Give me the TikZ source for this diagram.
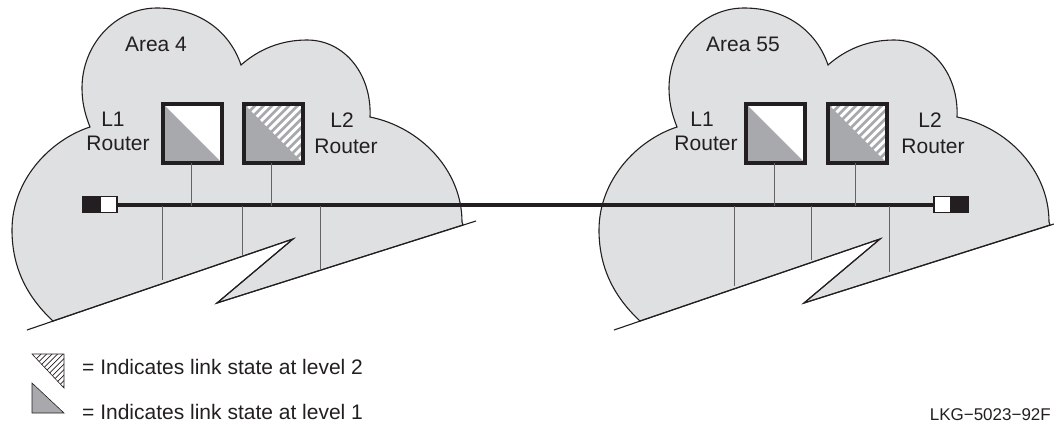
\documentclass[tikz,border=0pt]{standalone}
\usepackage{fontspec}
\setmainfont{Liberation Sans}
\definecolor{cloudgray}{HTML}{DFE0E2}
\definecolor{levelgray}{HTML}{A7A9AC}
\definecolor{inkblack}{HTML}{231F20}
\newcommand{\cloudoutline}{(53,321) .. controls (25,295) and (12,265) .. (12,230)
  .. controls (12,180) and (50,140) .. (90,127)
  .. controls (84,112) and (82,100) .. (82,88)
  .. controls (82,45) and (115,8) .. (157,8)
  .. controls (200,8) and (230,32) .. (241,65)
  .. controls (258,50) and (280,40) .. (307,40)
  .. controls (345,40) and (372,75) .. (370,117)
  .. controls (420,127) and (462,170) .. (462,222)}
\tikzset{
  lbl/.style={inner sep=0pt, font=\fontsize{21}{21}\selectfont, text=inkblack},
  area/.style={draw=inkblack, line width=1.1pt, fill=cloudgray},
  edgeline/.style={draw=inkblack, line width=1.1pt},
  drop/.style={draw=inkblack!70, line width=0.9pt},
  bus/.style={draw=inkblack, line width=4pt},
  term/.style={draw=inkblack, line width=1.6pt, minimum width=17pt, minimum height=16pt, inner sep=0pt, outer sep=0pt},
  router/.style={draw=inkblack, line width=4pt, minimum size=59pt, inner sep=0pt, outer sep=0pt},
  levelone/.style={router, fill=white, path picture={
      \fill[levelgray] (path picture bounding box.north west) -- (path picture bounding box.south east)
        -- (path picture bounding box.south west) -- cycle;}},
  leveltwo/.style={router, fill=levelgray, path picture={
      \begin{scope}
        \clip (path picture bounding box.north west) -- (path picture bounding box.south east)
          -- (path picture bounding box.north east) -- cycle;
        \foreach \s in {-60,-51.5,...,70} {
          \draw[white, line width=3pt] ([xshift=\s pt, yshift=-60pt]path picture bounding box.north west) -- ++(60pt,60pt);
        }
      \end{scope}}},
}
\begin{document}
\begin{tikzpicture}[x=1pt, y=-1pt]
  \useasboundingbox (0,0) rectangle (1054,423);

  % clouds
  \path[area] \cloudoutline -- (463,225) -- (217,303) -- (293,239) -- cycle;
  \path[area, xshift=587pt] \cloudoutline -- (463,225) -- (217,303) -- (293,239) -- cycle;

  % wide area link
  \coordinate (lt) at (476,221);
  \coordinate (lm) at (217,303);
  \coordinate (ln) at (293,239);
  \coordinate (lb) at (27,330);
  \draw[edgeline] (lt) -- (lm) -- (ln) -- (lb);
  \coordinate (rt) at (1054,224);
  \coordinate (rm) at (804,303);
  \coordinate (rn) at (880,239);
  \coordinate (rb) at (614,330);
  \draw[edgeline] (rt) -- (rm) -- (rn) -- (rb);

  % bus
  \node[term, fill=inkblack] (ltb) at (91,204.5) {};
  \node[term, fill=white] (ltw) at (108.5,204.5) {};
  \node[term, fill=white] (rtw) at (942.5,204.5) {};
  \node[term, fill=inkblack] (rtb) at (960,204.5) {};
  \draw[bus] (ltw) -- (rtw);

  % routers
  \node[levelone] (lr1) at (192.5,133.5) {};
  \node[leveltwo] (lr2) at (273.5,133.5) {};
  \node[levelone] (rr1) at (775.5,133.5) {};
  \node[leveltwo] (rr2) at (857.5,133.5) {};

  \coordinate (la) at (191,206);
  \coordinate (lc) at (271,206);
  \coordinate (ra) at (774,206);
  \coordinate (rc) at (855,206);
  \draw[drop] (lr1.south -| la) -- (la);
  \draw[drop] (lr2.south -| lc) -- (lc);
  \draw[drop] (rr1.south -| ra) -- (ra);
  \draw[drop] (rr2.south -| rc) -- (rc);

  % taps
  \coordinate (t1) at (162,206);
  \coordinate (b1) at (162,280);
  \coordinate (t2) at (242,206);
  \coordinate (b2) at (242,256);
  \coordinate (t3) at (320,206);
  \coordinate (b3) at (320,269);
  \coordinate (t4) at (734,206);
  \coordinate (b4) at (734,286);
  \coordinate (t5) at (811,206);
  \coordinate (b5) at (811,260);
  \coordinate (t6) at (889,206);
  \coordinate (b6) at (889,272);
  \draw[drop] (t1) -- (b1);
  \draw[drop] (t2) -- (b2);
  \draw[drop] (t3) -- (b3);
  \draw[drop] (t4) -- (b4);
  \draw[drop] (t5) -- (b5);
  \draw[drop] (t6) -- (b6);

  % labels
  \node[lbl] (la4) at (156,44) {Area 4};
  \node[lbl] (ll1) at (113,119) {L1};
  \node[lbl] (lr) at (118,143) {Router};
  \node[lbl] (ll2) at (342,120) {L2};
  \node[lbl] (lrr) at (346,146) {Router};
  \node[lbl] (ra5) at (743,44) {Area 55};
  \node[lbl] (rl1) at (702,119) {L1};
  \node[lbl] (rr) at (706,143) {Router};
  \node[lbl] (rl2) at (930,120) {L2};
  \node[lbl] (rrr) at (933,146) {Router};

  % legend
  \begin{scope}
    \clip (32,354) -- (64,354) -- (64,388) -- cycle;
    \foreach \s in {0,5.5,...,70} {
      \draw[inkblack, line width=0.7pt] (\s,395) -- ++(45,-45);
    }
  \end{scope}
  \draw[inkblack, line width=0.6pt] (32,354) -- (64,354) -- (64,388) -- cycle;
  \draw[inkblack, line width=0.6pt, fill=levelgray] (32,383) -- (64,413) -- (32,413) -- cycle;
  \node[lbl, anchor=west] (key2) at (82,367) {= Indicates link state at level 2};
  \node[lbl, anchor=west] (key1) at (82,412) {= Indicates link state at level 1};
  \node[lbl, anchor=east, font=\fontsize{17}{17}\selectfont] (fig) at (1051,414.5) {LKG−5023−92F};
\end{tikzpicture}
\end{document}
